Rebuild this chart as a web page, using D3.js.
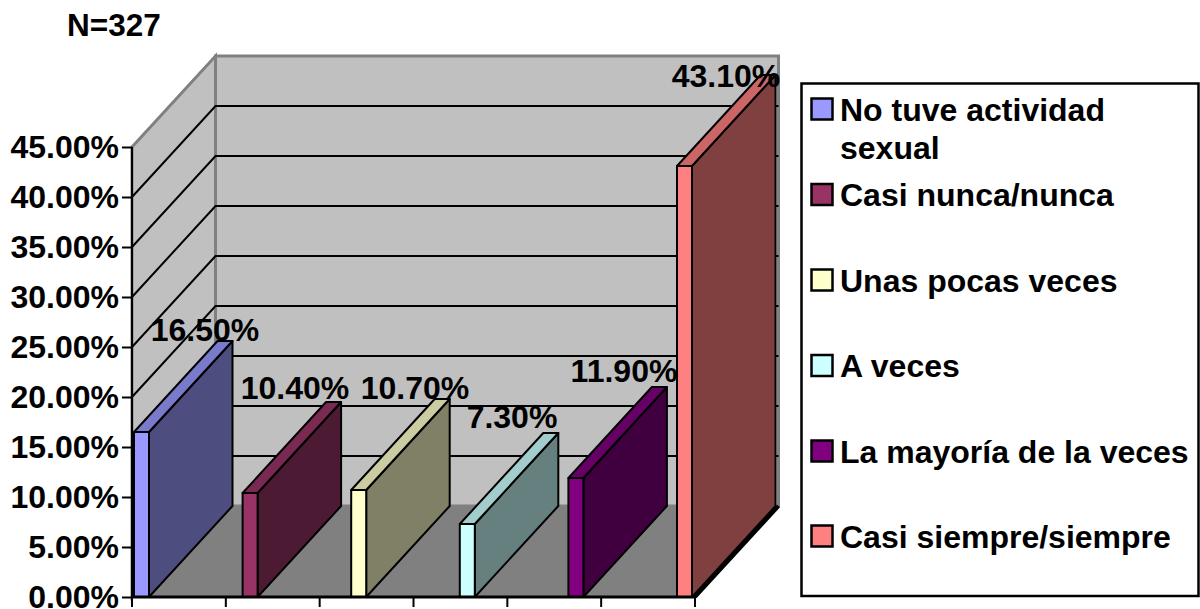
<!DOCTYPE html>
<html><head><meta charset="utf-8"><script src="https://cdn.jsdelivr.net/npm/d3@7"></script>
<style>html,body{margin:0;background:#fff}svg{display:block}text{font-family:"Liberation Sans",Arial,sans-serif;font-weight:700;fill:#000}</style></head><body><svg width="1200" height="609"></svg>
<script>
const categories=["No tuve actividad sexual","Casi nunca/nunca","Unas pocas veces","A veces","La mayoría de la veces","Casi siempre/siempre"];
const values=[16.5,10.4,10.7,7.3,11.9,43.1];
const valueLabels=["16.50%","10.40%","10.70%","7.30%","11.90%","43.10%"];
const colors=["#9999ff","#993366","#ffffcc","#ccffff","#800080","#ff8080"];
const sideColors=["#4d4d80","#4d1a33","#808066","#668080","#400040","#804040"];
const topColors=["#7a7acc","#7a2952","#ccccA3","#a3cccc","#660066","#cc6666"];
const ticks=[0,5,10,15,20,25,30,35,40,45];
const labelPos=[[205,341],[295,399],[415,399],[512,428],[624,382],[726,87]];
const legendLines=[["No tuve actividad","sexual"],["Casi nunca/nunca"],["Unas pocas veces"],["A veces"],["La mayoría de la veces"],["Casi siempre/siempre"]];
const legendY=[109,194.5,280,365.5,451,536];
const svg=d3.select("svg");
const y=d3.scaleLinear().domain([0,45]).range([597,147]);
const x0=132,x1=695,dx=83.5,dy=-91;
const bar=d3.scalePoint().domain(d3.range(6)).range([134,677]);
const bw=15,fs="32px";
const tickX=d3.scaleBand().domain(categories).range([x0,x1]);
const poly=p=>p.map(a=>a.join(",")).join(" ");
// walls
svg.append("polygon").attr("points",poly([[x0+dx,y(45)+dy],[x1+dx,y(45)+dy],[x1+dx,y(0)+dy],[x0+dx,y(0)+dy]])).attr("fill","#c0c0c0").attr("stroke","#808080").attr("stroke-width",3);
svg.append("polygon").attr("points",poly([[x0,y(45)],[x0+dx,y(45)+dy],[x0+dx,y(0)+dy],[x0,y(0)]])).attr("fill","#c0c0c0").attr("stroke","#808080").attr("stroke-width",3);
svg.append("polygon").attr("points",poly([[x0,y(0)],[x0+dx,y(0)+dy],[x1+dx,y(0)+dy],[x1,y(0)]])).attr("fill","#808080");
// gridlines
ticks.slice(1,-1).forEach(t=>{
 svg.append("polyline").attr("points",poly([[x0,y(t)],[x0+dx,y(t)+dy],[x1+dx,y(t)+dy]])).attr("fill","none").attr("stroke","#000").attr("stroke-width",2);
});
svg.append("line").attr("x1",x0).attr("x2",x0+dx).attr("y1",y(0)).attr("y2",y(0)+dy).attr("stroke","#000").attr("stroke-width",2);
svg.append("line").attr("x1",x1).attr("x2",x1+dx).attr("y1",y(0)).attr("y2",y(0)+dy).attr("stroke","#000").attr("stroke-width",4);
// bars
const g=svg.selectAll("g.bar").data(values).join("g").attr("class","bar");
const st=s=>s.attr("stroke","#000").attr("stroke-width",2).attr("stroke-linejoin","round");
g.append("polygon").attr("points",(d,i)=>{const a=bar(i)+bw;return poly([[a,y(0)],[a+dx,y(0)+dy],[a+dx,y(d)+dy],[a,y(d)]])}).attr("fill",(d,i)=>sideColors[i]).call(st);
g.append("polygon").attr("points",(d,i)=>{const a=bar(i);return poly([[a,y(d)],[a+bw,y(d)],[a+bw+dx,y(d)+dy],[a+dx,y(d)+dy]])}).attr("fill",(d,i)=>topColors[i]).call(st);
g.append("rect").attr("x",(d,i)=>bar(i)).attr("y",d=>y(d)).attr("width",bw).attr("height",d=>y(0)-y(d)).attr("fill",(d,i)=>colors[i]).call(st);
// axes
const ya=svg.append("g").attr("transform",`translate(${x0},0)`).call(d3.axisLeft(y).tickValues(ticks).tickFormat(d=>d3.format(".2f")(d)+"%").tickSize(10).tickPadding(3));
ya.select(".domain").attr("stroke-width",2).attr("d",`M0,${y(0)}V${y(45)}`);
ya.selectAll("line").attr("stroke-width",2);
ya.selectAll("text").style("font-size",fs).attr("font-family",null);
const xa=svg.append("g").attr("transform",`translate(0,${y(0)})`).call(d3.axisBottom(tickX).tickFormat("").tickSize(0));
xa.select(".domain").attr("stroke-width",3).attr("d",`M${x0},0H${x1}`);
svg.append("g").selectAll("line").data(d3.range(7)).join("line").attr("x1",i=>x0+i*tickX.step()).attr("x2",i=>x0+i*tickX.step()).attr("y1",y(0)).attr("y2",y(0)+10).attr("stroke","#000").attr("stroke-width",2);
// labels
svg.append("g").selectAll("text").data(valueLabels).join("text").attr("x",(d,i)=>labelPos[i][0]).attr("y",(d,i)=>labelPos[i][1]).attr("text-anchor","middle").style("font-size",fs).text(d=>d);
svg.append("text").attr("x",67).attr("y",36).style("font-size","31.5px").text("N=327");
// legend
svg.append("rect").attr("x",801.5).attr("y",83.5).attr("width",397).attr("height",512.5).attr("fill","#fff").attr("stroke","#000").attr("stroke-width",2.5);
const lg=svg.selectAll("g.lg").data(categories).join("g").attr("class","lg");
lg.append("rect").attr("x",811.5).attr("y",(d,i)=>legendY[i]-10.5).attr("width",21).attr("height",21).attr("fill",(d,i)=>colors[i]).attr("stroke","#000").attr("stroke-width",2.5);
lg.each(function(d,i){const s=d3.select(this);legendLines[i].forEach((t,j)=>s.append("text").attr("x",840).attr("y",legendY[i]+11.5+j*38).style("font-size",fs).text(t));});
</script></body></html>
